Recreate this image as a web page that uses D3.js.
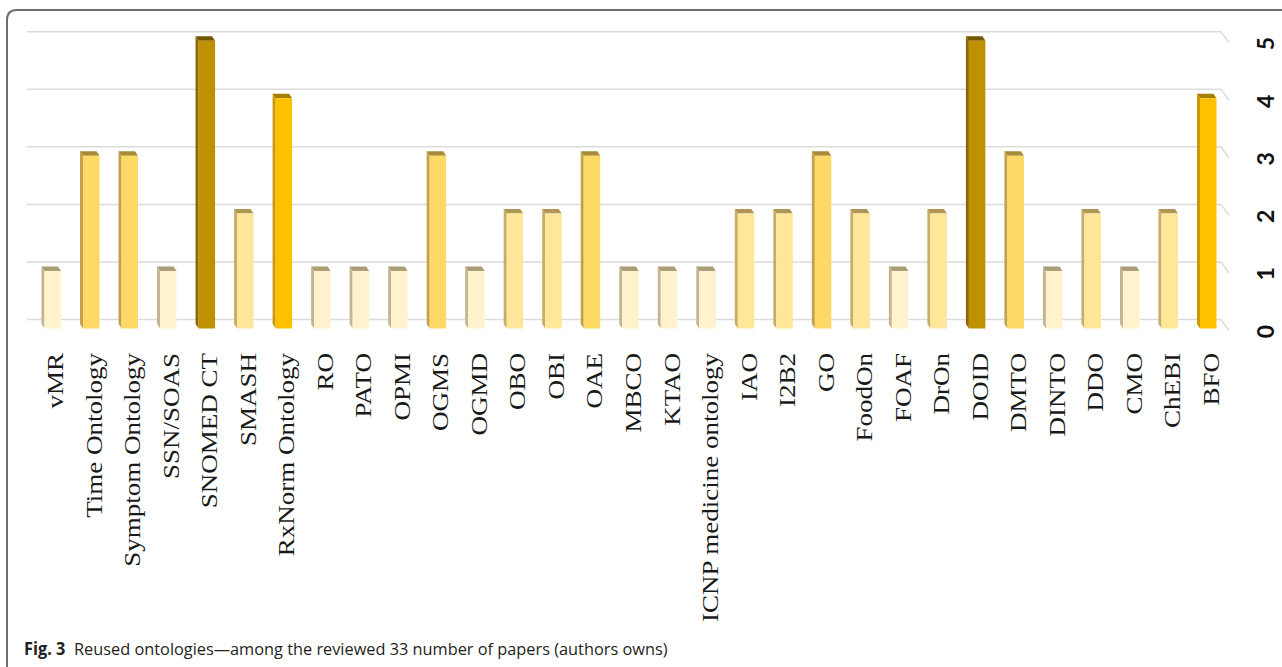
<!DOCTYPE html>
<html>
<head>
<meta charset="utf-8">
<script src="https://cdn.jsdelivr.net/npm/d3@7"></script>
<style>
  body { margin: 0; background: #fff; }
  svg { display: block; }
</style>
</head>
<body>
<div id="chart"></div>
<script>
// ontologies, left to right
const categories = ["vMR", "Time Ontology", "Symptom Ontology", "SSN/SOAS", "SNOMED CT", "SMASH",
  "RxNorm Ontology", "RO", "PATO", "OPMI", "OGMS", "OGMD", "OBO", "OBI", "OAE", "MBCO", "KTAO",
  "ICNP medicine ontology", "IAO", "I2B2", "GO", "FoodOn", "FOAF", "DrOn", "DOID", "DMTO", "DINTO",
  "DDO", "CMO", "ChEBI", "BFO"];
// number of papers reusing each one
const counts = [1, 3, 3, 1, 5, 2, 4, 1, 1, 1, 3, 1, 2, 2, 3, 1, 1, 1, 2, 2, 3, 2, 1, 2, 5, 3, 1, 2, 1, 2, 4];
const valueTicks = [0, 1, 2, 3, 4, 5];
const captionBold = "Fig. 3";
const captionText = "Reused ontologies\u2014among the reviewed 33 number of papers (authors owns)";

const W = 1282, H = 667;
const svg = d3.select("#chart").append("svg").attr("width", W).attr("height", H);

// frame (top + left edge, rounded corner)
let r = 10;
svg.append("path")
  .attr("d", "M7," + H + " L7," + (10 + r) + " Q7,10 " + (7 + r) + ",10 L" + W + ",10")
  .attr("fill", "none").attr("stroke", "#6e6e6e").attr("stroke-width", 2);

let x = d3.scaleBand().domain(categories).range([32, 1226]).padding(0);
let y = d3.scaleLinear().domain([0, 5]).range([319.5, 31.7]);
let front = 9;      // front plane offset (bars, value labels)
let wallDx = 8, wallDy = 11;

// colour by value
let fillCol = d3.scaleOrdinal().domain([1, 2, 3, 4, 5])
  .range(["#fff2cc", "#ffe699", "#ffd966", "#ffc000", "#bf9000"]);
let sideCol = d3.scaleOrdinal().domain([1, 2, 3, 4, 5])
  .range(["#c2b690", "#c6ad68", "#c4a24a", "#c99a06", "#8c6900"]);
let topCol = d3.scaleOrdinal().domain([1, 2, 3, 4, 5])
  .range(["#a99c76", "#ad9656", "#a98a38", "#a67e00", "#735600"]);

// gridlines on the back wall
let grid = svg.append("g");
grid.selectAll("path").data(valueTicks).enter().append("path")
  .attr("d", d => "M27," + y(d) + " L1221," + y(d) + " L" + (1221 + wallDx) + "," + (y(d) + wallDy))
  .attr("fill", "none").attr("stroke", "#dcdcdc").attr("stroke-width", 1.5);

// bars
let bw = 16.5, dx = -3, dy = -4.5;
let bars = svg.append("g").selectAll("g").data(categories).enter().append("g");
bars.each(function(d, i) {
  let g = d3.select(this);
  let v = counts[i];
  let c = x(d) + x.bandwidth() / 2;
  let x0 = c - bw / 2 + 1.5, x1 = x0 + bw;
  let yt = y(v) + front, yb = y(0) + front;
  g.append("path")
    .attr("d", "M" + x0 + "," + yt + " L" + (x0 + dx) + "," + (yt + dy) + " L" + (x0 + dx) + "," + (yb + dy) + " L" + x0 + "," + yb + "Z")
    .attr("fill", sideCol(v));
  g.append("path")
    .attr("d", "M" + x0 + "," + yt + " L" + (x0 + dx) + "," + (yt + dy) + " L" + (x1 + dx) + "," + (yt + dy) + " L" + x1 + "," + yt + "Z")
    .attr("fill", topCol(v));
  g.append("rect")
    .attr("x", x0).attr("y", yt).attr("width", bw).attr("height", yb - yt)
    .attr("fill", fillCol(v));
});

// category labels (rotated, serif)
svg.append("g").selectAll("text").data(categories).enter().append("text")
  .attr("transform", d => "translate(" + (x(d) + x.bandwidth() / 2 + 12) + ",353) rotate(-90) scale(1,0.86)")
  .attr("text-anchor", "end")
  .attr("font-family", "'Liberation Serif', 'Times New Roman', serif")
  .attr("font-size", 27)
  .attr("fill", "#1a1a1a")
  .text(d => d);

// value axis labels on the right
svg.append("g").selectAll("text").data(valueTicks).enter().append("text")
  .attr("transform", d => "translate(1265," + (y(d) + 12) + ") rotate(-90)")
  .attr("text-anchor", "middle")
  .attr("dominant-baseline", "central")
  .attr("font-family", "Lato, 'Open Sans', sans-serif")
  .attr("font-weight", 700)
  .attr("font-size", 23)
  .attr("fill", "#111")
  .text(d => d);

// caption
let cap = svg.append("text")
  .attr("x", 24).attr("y", 655)
  .attr("font-family", "'Open Sans', 'Noto Sans', sans-serif")
  .attr("font-size", 17)
  .attr("fill", "#231f20");
cap.append("tspan").attr("font-weight", 700).text(captionBold);
cap.append("tspan").attr("dx", 9).text(captionText);
let w = cap.node().getComputedTextLength() + 9;
let sx = (668 - 24) / w;
cap.attr("transform", "translate(24,0) scale(" + sx + ",1) translate(-24,0)");
</script>
</body>
</html>
